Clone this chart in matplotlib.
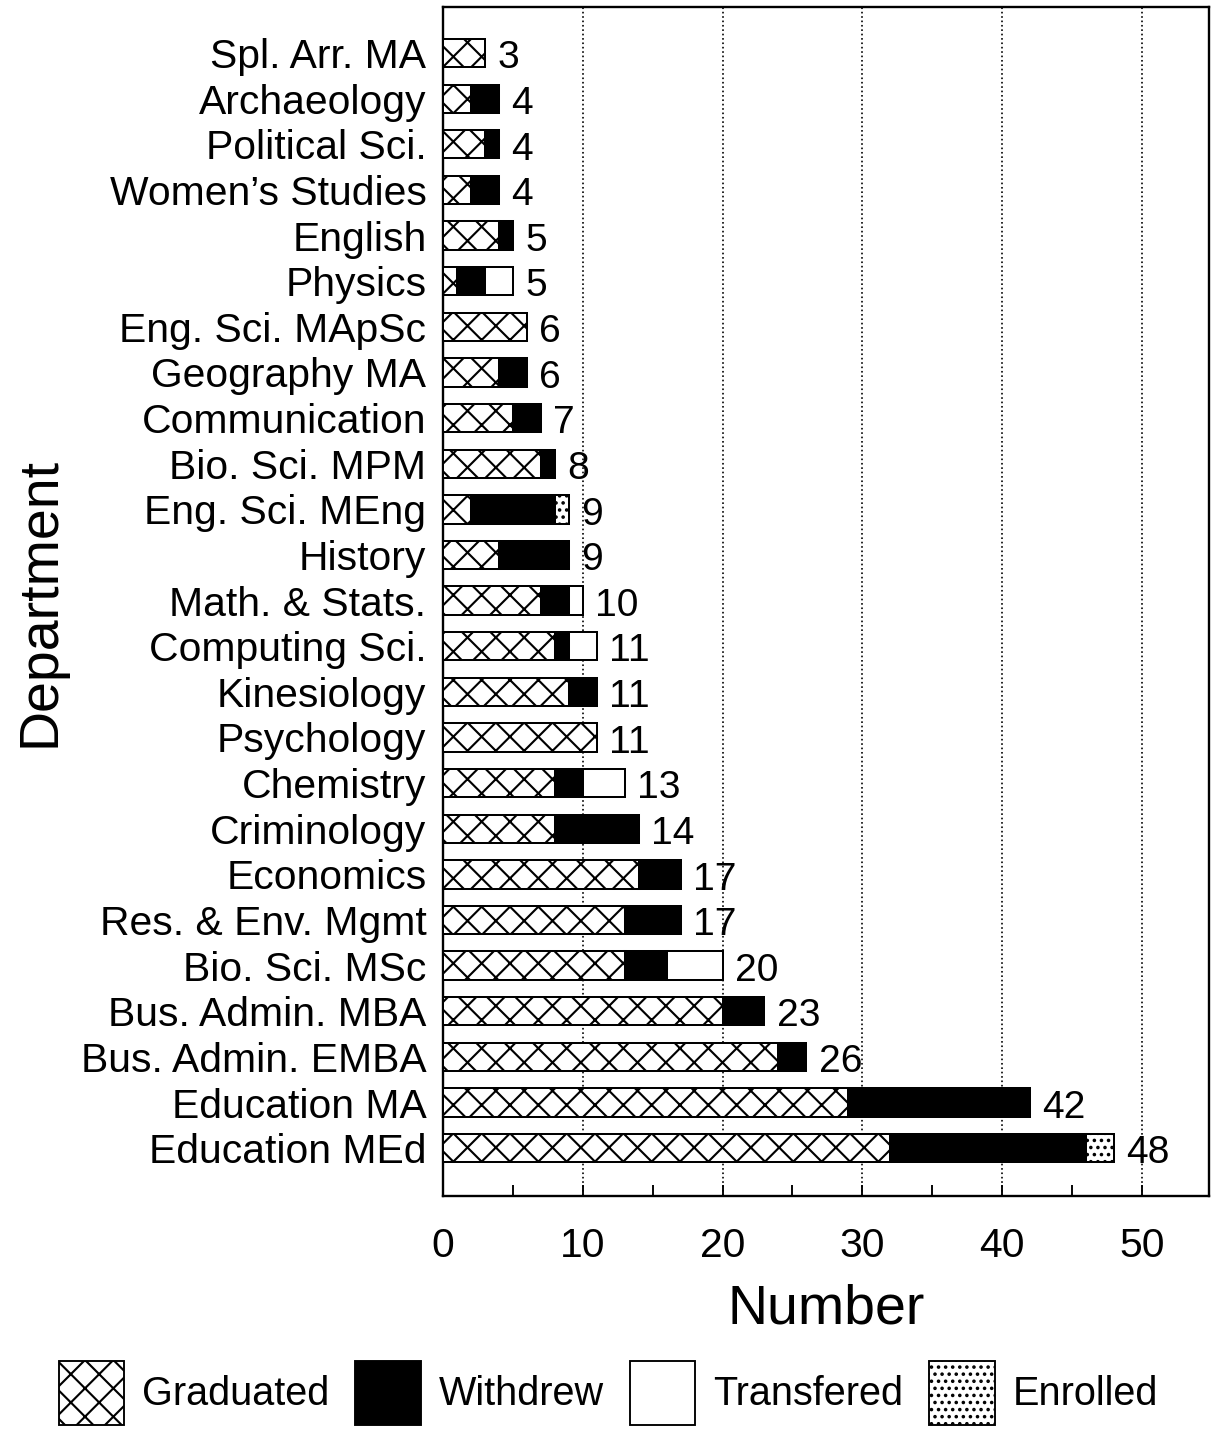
import matplotlib
matplotlib.use("Agg")
import matplotlib.pyplot as plt
import numpy as np
from matplotlib.patches import Patch

departments = ["Spl. Arr. MA", "Archaeology", "Political Sci.", "Women\u2019s Studies",
               "English", "Physics", "Eng. Sci. MApSc", "Geography MA", "Communication",
               "Bio. Sci. MPM", "Eng. Sci. MEng", "History", "Math. & Stats.",
               "Computing Sci.", "Kinesiology", "Psychology", "Chemistry", "Criminology",
               "Economics", "Res. & Env. Mgmt", "Bio. Sci. MSc", "Bus. Admin. MBA",
               "Bus. Admin. EMBA", "Education MA", "Education MEd"]
graduated = [3, 2, 3, 2, 4, 1, 6, 4, 5, 7, 2, 4, 7, 8, 9, 11, 8, 8, 14, 13, 13, 20, 24, 29, 32]
withdrew = [0, 2, 1, 2, 1, 2, 0, 2, 2, 1, 6, 5, 2, 1, 2, 0, 2, 6, 3, 4, 3, 3, 2, 13, 14]
transfered = [0, 0, 0, 0, 0, 2, 0, 0, 0, 0, 0, 0, 1, 2, 0, 0, 3, 0, 0, 0, 4, 0, 0, 0, 0]
enrolled = [0, 0, 0, 0, 0, 0, 0, 0, 0, 0, 1, 0, 0, 0, 0, 0, 0, 0, 0, 0, 0, 0, 0, 0, 2]

plt.rcParams['font.family'] = ['Liberation Sans', 'DejaVu Sans']
plt.rcParams['hatch.linewidth'] = 0.9

fig = plt.figure(figsize=(1212 / 170, 1430 / 170), dpi=170)
ax = fig.add_axes([0.3655, 0.1636, 0.632, 0.8315])

y = np.arange(len(departments))
h = 0.62
series = [(graduated, 'white', 'xx'), (withdrew, 'black', None),
          (transfered, 'white', None), (enrolled, 'white', '....')]
left = np.zeros(len(departments))
for vals, fc, hatch in series:
    vals = np.array(vals, dtype=float)
    mask = vals > 0
    ax.barh(y[mask], vals[mask], left=left[mask], height=h, color=fc,
            edgecolor='black', linewidth=0.85, hatch=hatch, zorder=3)
    left += vals

for yi, tot in zip(y, left):
    ax.annotate(str(int(tot)), (tot, yi), xytext=(5.3, -2.2), textcoords='offset points',
                ha='left', va='center', fontsize=16.5)

ax.set_ylim(len(departments) - 1 + 1.05, -1.01)
ax.set_xlim(0, 54.8)
ax.set_yticks(y)
ax.set_yticklabels(departments, fontsize=17.3)
ax.tick_params(axis='y', length=0, pad=7)
ax.set_xticks(np.arange(0, 51, 10))
ax.set_xticks(np.arange(5, 50, 10), minor=True)
ax.tick_params(axis='x', which='both', direction='in', length=4.8, width=0.8,
               labelsize=17.3, pad=13)
ax.xaxis.grid(True, linestyle=':', linewidth=0.7, color='black', zorder=0)
for s in ax.spines.values():
    s.set_linewidth(1.0)

ax.set_xlabel("Number", fontsize=23.5, labelpad=8)
ax.set_ylabel("Department", fontsize=23.5)
ax.yaxis.set_label_coords(-0.492, 0.5)

handles = [Patch(facecolor='white', edgecolor='black', hatch='xx', linewidth=0.8),
           Patch(facecolor='black', edgecolor='black', linewidth=0.8),
           Patch(facecolor='white', edgecolor='black', linewidth=0.8),
           Patch(facecolor='white', edgecolor='black', hatch='....', linewidth=0.8)]
fig.legend(handles, ["Graduated", "Withdrew", "Transfered", "Enrolled"],
           loc='center', bbox_to_anchor=(0.502, 1 - 1393 / 1430), ncol=4, frameon=False,
           fontsize=16.8, handlelength=1.65, handleheight=2.1, handletextpad=0.45,
           columnspacing=0.66)

fig.savefig("out.png", dpi=170)
